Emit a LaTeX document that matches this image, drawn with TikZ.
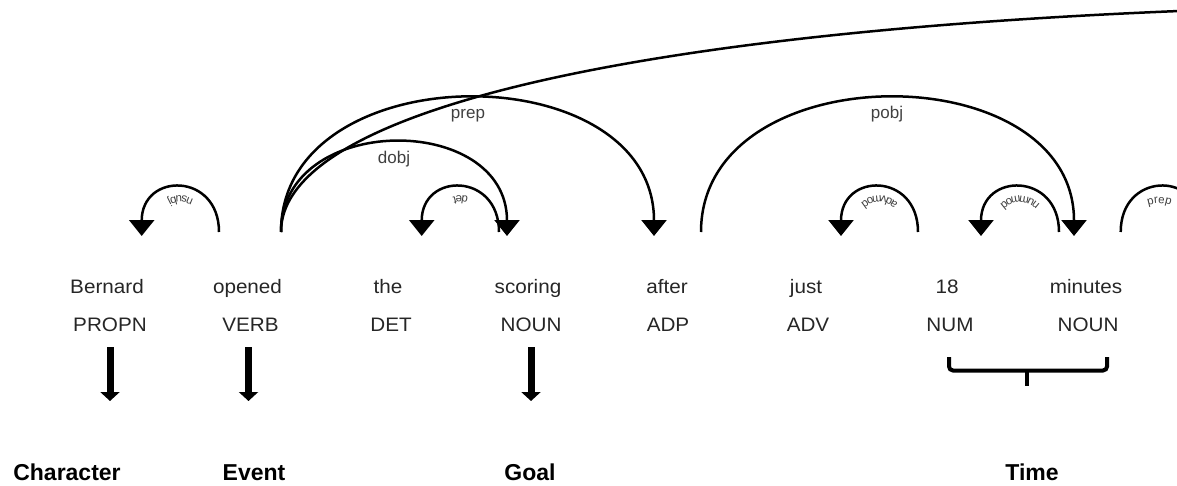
\documentclass[tikz,border=0pt]{standalone}
\usepackage{fontspec}
\setmainfont{Liberation Sans}
\newfontfamily\wordfont[FakeStretch=1.06]{Liberation Sans}
\usetikzlibrary{arrows.meta,decorations.text}

\newcommand\arclabfont{\fontsize{11.5}{14}\selectfont}

\begin{document}
\begin{tikzpicture}[x=1pt,y=-1pt,
  word/.style={anchor=base, inner sep=0pt, text=black!85,
    font=\wordfont\fontsize{19.5}{22}\selectfont},
  role/.style={anchor=base, inner sep=0pt,
    font=\bfseries\fontsize{23}{26}\selectfont},
  deplabel/.style={anchor=base, inner sep=0pt, text=black!75,
    font=\fontsize{17}{20}\selectfont},
  arc/.style={line width=2.5pt, black},
  head/.style={-{Triangle[width=25pt,length=16pt]}},
  down/.style={line width=7pt, -{Triangle[width=19pt,length=9pt]}},
  brace/.style={line width=4pt, rounded corners=4pt},
  arclab/.style={decorate, decoration={text along path, text align=center,
    text color=black!75, text={|\arclabfont|#1}}},
]
\useasboundingbox (0,0) rectangle (1177,485);
\clip (0,0) rectangle (1177,485);

% tokens
\node[word] (w1) at (107,293) {Bernard};
\node[word] (w2) at (247.5,293) {opened};
\node[word] (w3) at (388,293) {the};
\node[word] (w4) at (528,293) {scoring};
\node[word] (w5) at (667,293) {after};
\node[word] (w6) at (806,293) {just};
\node[word] (w7) at (947,293) {18};
\node[word] (w8) at (1086,293) {minutes};

% part-of-speech tags
\node[word] (p1) at (110,331) {PROPN};
\node[word] (p2) at (250.5,331) {VERB};
\node[word] (p3) at (391,331) {DET};
\node[word] (p4) at (531,331) {NOUN};
\node[word] (p5) at (668,331) {ADP};
\node[word] (p6) at (808,331) {ADV};
\node[word] (p7) at (950,331) {NUM};
\node[word] (p8) at (1088,331) {NOUN};

% arc end points
\coordinate (ns-s) at (219,232);    \coordinate (ns-e) at (141.7,236);
\coordinate (op-out) at (281,232);
\coordinate (dobj-e) at (507,236);
\coordinate (prep-e) at (654,236);
\coordinate (det-s) at (499,232);   \coordinate (det-e) at (421.7,236);
\coordinate (pobj-s) at (701,232);  \coordinate (pobj-e) at (1074,236);
\coordinate (adv-s) at (918,232);   \coordinate (adv-e) at (841,236);
\coordinate (num-s) at (1059,232);  \coordinate (num-e) at (981,236);
\coordinate (pu-s) at (1120.7,232); \coordinate (pu-e) at (1198,236);
\coordinate (far) at (1400,5);

% dependency arcs
\draw[arc,head] (ns-s) .. controls (219,172) and (141.7,172) .. (ns-e);
\draw[arc,head] (det-s) .. controls (499,172) and (421.7,172) .. (det-e);
\draw[arc,head] (op-out) .. controls (281,112) and (507,112) .. (dobj-e);
\draw[arc,head] (op-out) .. controls (281,53) and (654,53) .. (prep-e);
\draw[arc,head] (pobj-s) .. controls (701,53) and (1074,53) .. (pobj-e);
\draw[arc,head] (adv-s) .. controls (918,172) and (841,172) .. (adv-e);
\draw[arc,head] (num-s) .. controls (1059,172) and (981,172) .. (num-e);
\draw[arc,head] (pu-s) .. controls (1120.7,172) and (1198,172) .. (pu-e);
\draw[arc] (op-out) .. controls (281,100) and (700,15) .. (far);

% arc labels, set along inner guide curves
\path[arclab=nsubj] (210,232) .. controls (210,184) and (150.7,184) .. (150.7,232);
\path[arclab=det] (490,232) .. controls (490,184) and (430.7,184) .. (430.7,232);
\path[arclab=advmod] (909,232) .. controls (909,184) and (850,184) .. (850,232);
\path[arclab=nummod] (1050,232) .. controls (1050,184) and (990,184) .. (990,232);
\path[arclab=prep] (1129.7,232) .. controls (1129.7,194) and (1189,194) .. (1189,232);
\node[deplabel] (l-dobj) at (394,163) {dobj};
\node[deplabel] (l-prep) at (468,118) {prep};
\node[deplabel] (l-pobj) at (887,118) {pobj};

% roles
\node[role] (r1) at (67,480) {Character};
\node[role] (r2) at (254,480) {Event};
\node[role] (r3) at (530,480) {Goal};
\node[role] (r4) at (1032,480) {Time};

% downward arrows from tags to roles
\coordinate (top) at (0,347);
\coordinate (bot) at (0,401);
\draw[down] (p1 |- top) -- (p1 |- bot);
\draw[down] ([xshift=-2pt]p2 |- top) -- ([xshift=-2pt]p2 |- bot);
\draw[down] (p4 |- top) -- (p4 |- bot);

% brace grouping NUM and NOUN
\coordinate (bl) at (949,357);
\coordinate (br) at (1107,357);
\coordinate (bm) at (1027,370.5);
\coordinate (bs) at (1027,386);
\draw[brace] (bl) |- (bm) -| (br);
\draw[line width=4pt] (bm) -- (bs);
\end{tikzpicture}
\end{document}
